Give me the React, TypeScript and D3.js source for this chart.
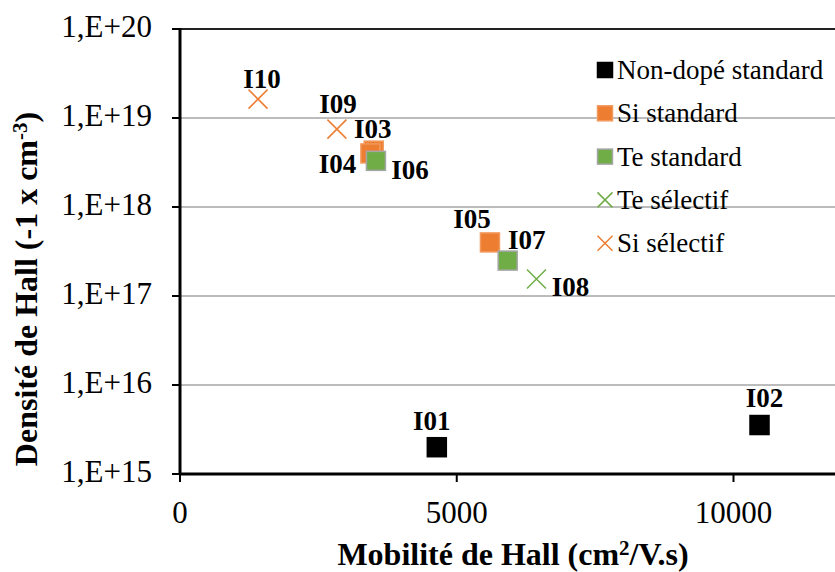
import React, { useEffect, useRef } from 'react';
import * as d3 from 'd3';

// Mobilité (cm2/V.s) et densité de Hall (cm-3) par échantillon
const seriesNames = ['Non-dopé standard', 'Si standard', 'Te standard', 'Te sélectif', 'Si sélectif'];
const sampleIds = ['I01', 'I02', 'I03', 'I04', 'I05', 'I06', 'I07', 'I08', 'I09', 'I10'];
const sampleSeries = [0, 0, 1, 1, 1, 2, 2, 3, 4, 4];
const mobility = [4640, 10470, 3500, 3440, 5600, 3540, 5920, 6440, 2835, 1410];
const density = [2.0e15, 3.55e15, 4.3e18, 4.0e18, 4.0e17, 3.3e18, 2.5e17, 1.55e17, 7.5e18, 1.63e19];
const xTicks = [0, 5000, 10000];
const yTicks = [1e15, 1e16, 1e17, 1e18, 1e19, 1e20];
const yTickLabels = ['1,E+15', '1,E+16', '1,E+17', '1,E+18', '1,E+19', '1,E+20'];

// label placement around each marker (dx, dy)
const labelOffsets: { [k: string]: [number, number] } = {
  I01: [-5, -17], I02: [5, -18], I03: [-1, -13], I04: [-33, 20], I05: [-18, -14],
  I06: [34, 18], I07: [19, -12], I08: [34, 17], I09: [1, -16], I10: [4, -11],
};

const seriesStyle = [
  { shape: 'square', fill: '#000000', stroke: '#000000' },
  { shape: 'square', fill: '#ED7D31', stroke: '#F29A5E' },
  { shape: 'square', fill: '#70AD47', stroke: '#A5A5A5' },
  { shape: 'cross', fill: 'none', stroke: '#70AD47' },
  { shape: 'cross', fill: 'none', stroke: '#ED7D31' },
];

const serif = '"Liberation Serif", "Times New Roman", serif';

export default function App() {
  const ref = useRef<SVGSVGElement>(null);

  useEffect(() => {
    const width = 835;
    const left = 180, top = 29, bottom = 474;
    const svg = d3.select(ref.current);
    svg.selectAll('*').remove();

    const x = d3.scaleLinear().domain([0, 12000]).range([left, left + 12000 * 0.05535]);
    const y = d3.scaleLog().domain([1e15, 1e20]).range([bottom, top]);

    // gridlines
    svg.append('g').selectAll('line')
      .data(yTicks.slice(1))
      .enter().append('line')
      .attr('x1', left).attr('x2', width)
      .attr('y1', (d: number) => y(d)).attr('y2', (d: number) => y(d))
      .attr('stroke', (d: number) => d === 1e20 ? '#222' : '#A6A6A6')
      .attr('stroke-width', (d: number) => d === 1e20 ? 2 : 1.5);

    // axes
    svg.append('line').attr('x1', left).attr('x2', left).attr('y1', top - 1).attr('y2', bottom + 1)
      .attr('stroke', '#000').attr('stroke-width', 3);
    svg.append('line').attr('x1', left - 1).attr('x2', width).attr('y1', bottom).attr('y2', bottom)
      .attr('stroke', '#000').attr('stroke-width', 3);

    svg.append('g').selectAll('line')
      .data(yTicks).enter().append('line')
      .attr('x1', left - 8).attr('x2', left)
      .attr('y1', (d: number) => y(d)).attr('y2', (d: number) => y(d))
      .attr('stroke', '#000').attr('stroke-width', 2);
    svg.append('g').selectAll('line')
      .data(xTicks).enter().append('line')
      .attr('x1', (d: number) => x(d)).attr('x2', (d: number) => x(d))
      .attr('y1', bottom).attr('y2', bottom + 8)
      .attr('stroke', '#000').attr('stroke-width', 2);

    svg.append('g').selectAll('text')
      .data(yTicks).enter().append('text')
      .attr('x', 152).attr('y', (d: number) => y(d) + 8)
      .attr('text-anchor', 'end')
      .style('font-family', serif).style('font-size', '31px')
      .text((d: number, i: number) => yTickLabels[i]);
    svg.append('g').selectAll('text')
      .data(xTicks).enter().append('text')
      .attr('x', (d: number) => x(d)).attr('y', 523)
      .attr('text-anchor', 'middle')
      .style('font-family', serif).style('font-size', '31px')
      .text((d: number) => String(d));

    // axis titles
    const xt = svg.append('text').attr('x', 513).attr('y', 565).attr('text-anchor', 'middle')
      .style('font-family', serif).style('font-size', '32px').style('font-weight', 'bold');
    xt.append('tspan').text('Mobilité de Hall (cm');
    xt.append('tspan').attr('dy', -10).style('font-size', '21px').text('2');
    xt.append('tspan').attr('dy', 10).text('/V.s)');

    const yt = svg.append('text').attr('transform', 'translate(37,289) rotate(-90)').attr('text-anchor', 'middle')
      .style('font-family', serif).style('font-size', '32px').style('font-weight', 'bold');
    yt.append('tspan').text('Densité de Hall (-1 x cm');
    yt.append('tspan').attr('dy', -10).style('font-size', '21px').text('-3');
    yt.append('tspan').attr('dy', 10).text(')');

    const drawMarker = (g: any, s: number, cx: number, cy: number, size: number) => {
      const st = seriesStyle[s];
      if (st.shape === 'square') {
        g.append('rect').attr('x', cx - size / 2).attr('y', cy - size / 2)
          .attr('width', size).attr('height', size)
          .attr('fill', st.fill).attr('stroke', st.stroke).attr('stroke-width', 1.5);
      } else {
        const h = size / 2;
        g.append('path').attr('d', `M${cx - h},${cy - h}L${cx + h},${cy + h}M${cx - h},${cy + h}L${cx + h},${cy - h}`)
          .attr('stroke', st.stroke).attr('stroke-width', 1.5).attr('fill', 'none');
      }
    };

    // points, drawn series by series
    const plot = svg.append('g');
    seriesNames.forEach((_, s) => {
      sampleIds.forEach((id, i) => {
        if (sampleSeries[i] !== s) return;
        drawMarker(plot, s, x(mobility[i]), y(density[i]), 19);
      });
    });

    // sample labels
    svg.append('g').selectAll('text')
      .data(sampleIds).enter().append('text')
      .attr('x', (d: string, i: number) => x(mobility[i]) + labelOffsets[d][0])
      .attr('y', (d: string, i: number) => y(density[i]) + labelOffsets[d][1])
      .attr('text-anchor', 'middle')
      .style('font-family', serif).style('font-size', '27px').style('font-weight', 'bold')
      .text((d: string) => d);

    // legend
    const legend = svg.append('g');
    seriesNames.forEach((name, s) => {
      const ly = 70 + s * 43.3;
      drawMarker(legend, s, 605, ly, 15);
      legend.append('text').attr('x', 617).attr('y', ly + 9)
        .style('font-family', serif).style('font-size', '27px').text(name);
    });
  }, []);

  return (
    <svg ref={ref} width={835} height={572}
      style={{ position: 'absolute', left: 0, top: 0, background: '#fff' }} />
  );
}
